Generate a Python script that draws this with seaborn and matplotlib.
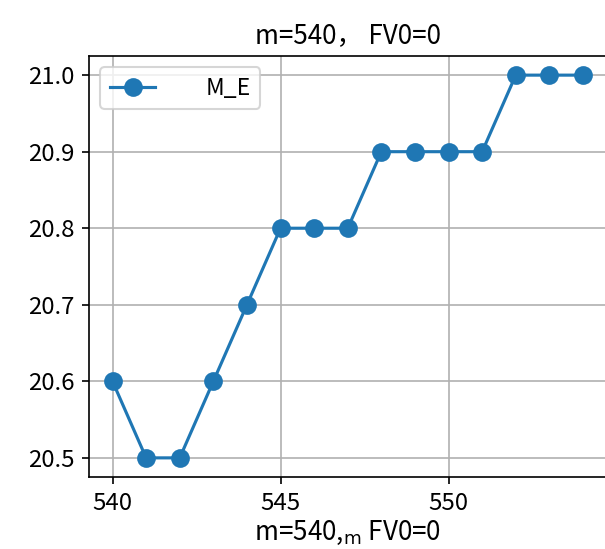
import pandas as pd
import seaborn as sns
from matplotlib import pyplot as plt

m_vals = [540, 541, 542, 543, 544, 545, 546, 547, 548, 549, 550, 551, 552, 553, 554]
me_vals = [20.6, 20.5, 20.5, 20.6, 20.7, 20.8, 20.8, 20.8, 20.9, 20.9, 20.9, 20.9, 21.0, 21.0, 21.0]
titulo = 'm=540， FV0=0'
rotulo_x = 'm=540,$_{\\mathrm{m}}$ FV0=0'

plt.rcParams['font.family'] = ['Noto Sans CJK SC', 'DejaVu Sans']
plt.rcParams['axes.unicode_minus'] = False

df = pd.DataFrame({'m': m_vals, 'M_E': me_vals})

fig = plt.figure(figsize=(605 / 150, 549 / 150), dpi=150)
ax = fig.add_axes([89 / 605, 1 - 477 / 549, 517.5 / 605, 421 / 549])
sns.lineplot(x='m', y='M_E', data=df, marker='o', markersize=9,
             markeredgewidth=0, color='#1f77b4', label='M_E', ax=ax)
ax.set_title(titulo, fontsize=12.5)
ax.set_xlabel(rotulo_x, fontsize=12.5, labelpad=2)
ax.set_ylabel('')
ax.set_xticks([540, 545, 550])
ax.set_yticks([20.5, 20.6, 20.7, 20.8, 20.9, 21.0])
ax.tick_params(labelsize=11.5)
ax.grid(True)
ax.legend(loc='upper left', handletextpad=2.2, fontsize=11)
fig.savefig('out.png', dpi=150)
